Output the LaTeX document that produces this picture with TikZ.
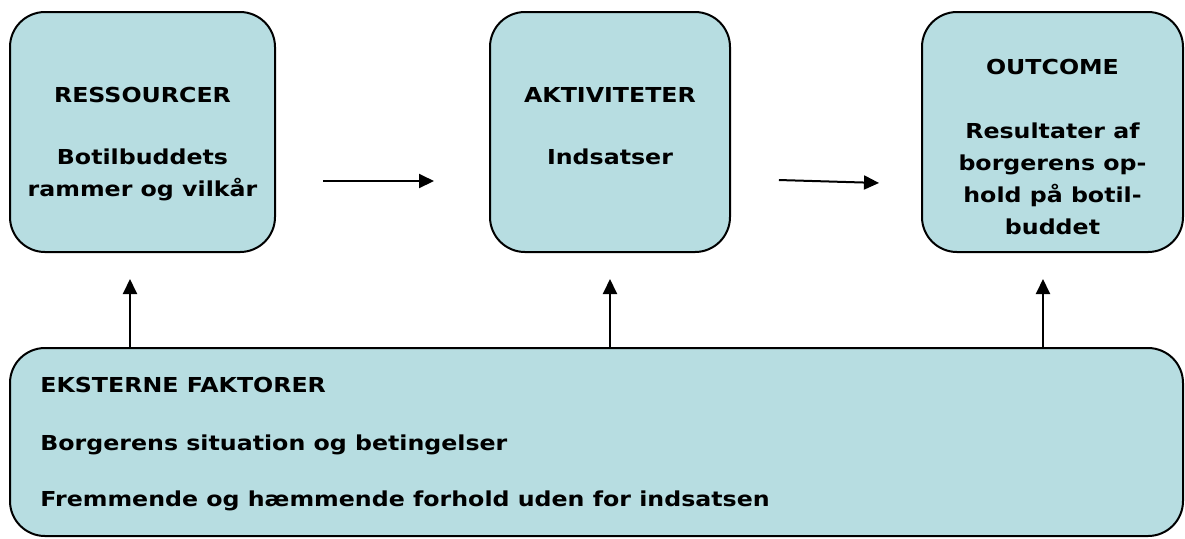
\documentclass[tikz,border=0pt]{standalone}
\usepackage{fontspec}
\setmainfont[FakeStretch=1.15]{DejaVu Sans}
\usetikzlibrary{arrows.meta}
\definecolor{boxblue}{RGB}{183,221,225}
\newcommand{\boxround}{17.5pt}

\begin{document}
\begin{tikzpicture}[x=0.5pt, y=-0.5pt,
    box/.style={draw, fill=boxblue, line width=1pt, rounded corners=\boxround},
    txt/.style={font=\bfseries\fontsize{10.3}{16}\selectfont, inner sep=0pt},
    flow/.style={line width=1pt, -{Triangle[length=7.5pt, width=7pt]}}]
    \useasboundingbox (0,0) rectangle (1185,538);
    % Program logic: resources, activities, outcome, external factors
        \node (res) at (142.5,132) [box, minimum width=132.5pt, minimum height=120pt] {};
        \node (akt) at (610,132) [box, minimum width=120pt, minimum height=120pt] {};
        \node (out) at (1052.5,132) [box, minimum width=130.5pt, minimum height=120pt] {};
        \node (ext) at (596.5,442) [box, minimum width=586.5pt, minimum height=94pt] {};

        \node (restxt) at (142.5,87) [txt, anchor=north, align=center]
            {RESSOURCER\\[15pt]Botilbuddets\\rammer og vilkår};
        \node (akttxt) at (610,87) [txt, anchor=north, align=center]
            {AKTIVITETER\\[15pt]Indsatser};
        \node (outtxt) at (1052.5,59) [txt, anchor=north, align=center]
            {OUTCOME\\[16pt]Resultater af\\borgerens op-\\hold på botil-\\buddet};
        \node (exttxt) at (40,377) [txt, anchor=north west, align=left]
            {EKSTERNE FAKTORER\\[13pt]Borgerens situation og betingelser\\[12pt]Fremmende og hæmmende forhold uden for indsatsen};

        \coordinate (f1) at (130,348);
        \coordinate (f2) at (610,348);
        \coordinate (f3) at (1043,348);

        \draw[flow, shorten <=23.5pt, shorten >=27.5pt]
            ([yshift=-24.5pt]res.east) -- ([yshift=-24.5pt]akt.west);
        \draw[flow, shorten <=24pt, shorten >=21pt]
            ([yshift=-23.3pt]akt.east) -- ([yshift=-26.1pt]out.west);
        \draw[flow, shorten >=13pt] (f1) -- (f1 |- res.south);
        \draw[flow, shorten >=13pt] (f2) -- (f2 |- akt.south);
        \draw[flow, shorten >=13pt] (f3) -- (f3 |- out.south);

  \end{tikzpicture}
\end{document}
